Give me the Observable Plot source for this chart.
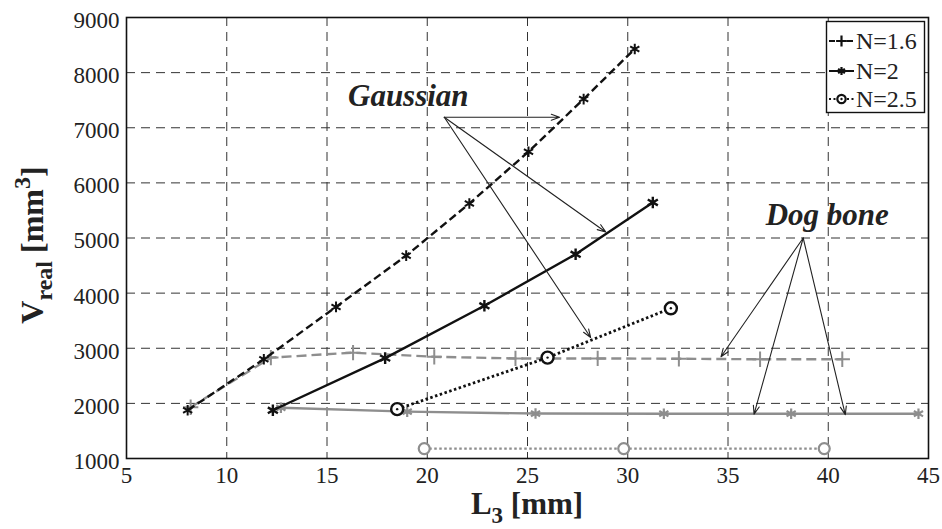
<!DOCTYPE html>
<html>
<head>
<meta charset="utf-8">
<script src="https://cdn.jsdelivr.net/npm/d3@7"></script>
<script src="https://cdn.jsdelivr.net/npm/@observablehq/plot@0.6"></script>
<style>
  html, body { margin: 0; padding: 0; background: #fff; }
  #chart svg { display: block; }
</style>
</head>
<body>
<div id="chart"></div>
<script>
// ---- Data ----
const xTicks = [5, 10, 15, 20, 25, 30, 35, 40, 45];
const yTicks = [1000, 2000, 3000, 4000, 5000, 6000, 7000, 8000, 9000];

const gauss16X = [8.05, 11.85, 15.45, 18.95, 22.1, 25.05, 27.8, 30.35];
const gauss16Y = [1875, 2800, 3750, 4680, 5625, 6565, 7520, 8430];
const gauss2X = [12.3, 17.9, 22.85, 27.4, 31.25];
const gauss2Y = [1875, 2820, 3770, 4705, 5645];
const gauss25X = [18.5, 26.0, 32.15];
const gauss25Y = [1895, 2830, 3725];

const dog16X = [8.2, 12.2, 16.3, 20.35, 24.4, 28.5, 32.55, 36.6, 40.7];
const dog16Y = [1930, 2830, 2920, 2845, 2815, 2815, 2810, 2800, 2800];
const dog2X = [12.7, 19.0, 25.4, 31.8, 38.15, 44.5];
const dog2Y = [1920, 1850, 1815, 1813, 1813, 1813];
const dog25X = [19.85, 29.8, 39.8];
const dog25Y = [1180, 1180, 1180];

const legendLabels = ["N=1.6", "N=2", "N=2.5"];

const gaussLabel = "Gaussian";
const gaussOrigin = [20.85, 7190];
const gaussTargetsX = [26.6, 28.9, 28.15];
const gaussTargetsY = [7190, 5110, 3195];

const dogLabel = "Dog bone";
const dogOrigin = [38.75, 5000];
const dogTargetsX = [34.65, 36.3, 40.85];
const dogTargetsY = [2845, 1805, 1795];

// ---- Build tables ----
const zip = (xs, ys) => xs.map((x, i) => ({x, y: ys[i]}));
const g16 = zip(gauss16X, gauss16Y), g2 = zip(gauss2X, gauss2Y), g25 = zip(gauss25X, gauss25Y);
const d16 = zip(dog16X, dog16Y), d2 = zip(dog2X, dog2Y), d25 = zip(dog25X, dog25Y);
const gArrows = gaussTargetsX.map((x, i) => ({x1: gaussOrigin[0], y1: gaussOrigin[1], x2: x, y2: gaussTargetsY[i]}));
const dArrows = dogTargetsX.map((x, i) => ({x1: dogOrigin[0], y1: dogOrigin[1], x2: x, y2: dogTargetsY[i]}));

const BLACK = "#111";
const GRAY = "#8e8e8e";
const LW = 2.4;
const serif = "'Liberation Serif', 'Times New Roman', serif";
const fmt = d => String(d);

const plot = Plot.plot({
  width: 942,
  height: 529,
  marginLeft: 126,
  marginRight: 14,
  marginTop: 17,
  marginBottom: 71,
  style: {fontFamily: serif, fontSize: "23px", color: "#222", background: "#fff"},
  x: {domain: [5, 45], ticks: xTicks, tickFormat: fmt, label: null},
  y: {domain: [1000, 9000], ticks: yTicks, tickFormat: fmt, label: null},
  marks: [
    Plot.gridX(xTicks, {stroke: "#333", strokeOpacity: 1, strokeWidth: 1, strokeDasharray: "9,6"}),
    Plot.gridY(yTicks, {stroke: "#333", strokeOpacity: 1, strokeWidth: 1, strokeDasharray: "9,6"}),
    Plot.axisX(xTicks, {tickSize: 0, tickPadding: 8, fontSize: 23, fontFamily: serif, fill: "#222", tickFormat: fmt}),
    Plot.axisY(yTicks, {tickSize: 0, tickPadding: 7, fontSize: 23, fontFamily: serif, fill: "#222", dy: 3, tickFormat: fmt}),
    // Dog bone (gray)
    Plot.line(d16, {x: "x", y: "y", stroke: GRAY, strokeWidth: LW, strokeDasharray: "10,5", strokeLinecap: "butt"}),
    Plot.dot(d16, {x: "x", y: "y", symbol: "plus", r: 5, stroke: GRAY, strokeWidth: 2}),
    Plot.line(d2, {x: "x", y: "y", stroke: GRAY, strokeWidth: LW}),
    Plot.dot(d2, {x: "x", y: "y", symbol: "asterisk", r: 5, stroke: GRAY, strokeWidth: 2.2}),
    Plot.line(d25, {x: "x", y: "y", stroke: GRAY, strokeWidth: LW, strokeDasharray: "2.5,2.5", strokeLinecap: "butt"}),
    Plot.dot(d25, {x: "x", y: "y", symbol: "circle", r: 5.5, stroke: GRAY, fill: "white", strokeWidth: 2.2}),
    // Gaussian (black)
    Plot.line(g16, {x: "x", y: "y", stroke: BLACK, strokeWidth: LW, strokeDasharray: "8,4", strokeLinecap: "butt"}),
    Plot.dot(g16, {x: "x", y: "y", symbol: "asterisk", r: 5, stroke: BLACK, strokeWidth: 2}),
    Plot.line(g2, {x: "x", y: "y", stroke: BLACK, strokeWidth: LW}),
    Plot.dot(g2, {x: "x", y: "y", symbol: "asterisk", r: 5.5, stroke: BLACK, strokeWidth: 2.4}),
    Plot.line(g25, {x: "x", y: "y", stroke: BLACK, strokeWidth: LW + 0.4, strokeDasharray: "2.5,2.5", strokeLinecap: "butt"}),
    Plot.dot(g25, {x: "x", y: "y", symbol: "circle", r: 6, stroke: BLACK, fill: "white", strokeWidth: 2.4}),
    Plot.dot(g25, {x: "x", y: "y", r: 1.2, fill: BLACK}),
    // Annotation arrows
    Plot.arrow(gArrows, {x1: "x1", y1: "y1", x2: "x2", y2: "y2", stroke: "#222", strokeWidth: 1.1, headLength: 12, headAngle: 40, insetStart: 0, insetEnd: 0}),
    Plot.arrow(dArrows, {x1: "x1", y1: "y1", x2: "x2", y2: "y2", stroke: "#222", strokeWidth: 1.1, headLength: 12, headAngle: 40, insetStart: 0, insetEnd: 0}),
    Plot.text([gaussLabel], {x: gaussOrigin[0], y: gaussOrigin[1], text: d => d, dy: -21, dx: -36, fontFamily: serif, fontWeight: "bold", fontStyle: "italic", fontSize: 31, fill: "#222", textAnchor: "middle"}),
    Plot.text([dogLabel], {x: dogOrigin[0], y: dogOrigin[1], text: d => d, dy: -23, dx: 24, fontFamily: serif, fontWeight: "bold", fontStyle: "italic", fontSize: 31, fill: "#222", textAnchor: "middle"}),
    Plot.frame({stroke: "#111", strokeWidth: 1.6})
  ]
});

document.getElementById("chart").appendChild(plot);

// ---- Axis labels with sub/superscripts, and legend ----
const svg = d3.select(plot);

// force serif tick labels
svg.selectAll("g[aria-label$='tick label'], g[aria-label$='tick label'] text")
  .style("font-family", serif).attr("font-family", serif);

// x label: L_3 [mm]
const xl = svg.append("text")
  .attr("x", 527).attr("y", 514)
  .attr("text-anchor", "middle")
  .attr("font-family", serif).attr("font-weight", "bold").attr("font-size", 31).attr("fill", "#222");
xl.append("tspan").text("L");
xl.append("tspan").attr("font-size", 23).attr("dy", 9).text("3");
xl.append("tspan").attr("dy", -9).text(" [mm]");

// y label: V_real [mm^3]
const yl = svg.append("text")
  .attr("transform", "translate(43,245) rotate(-90)")
  .attr("text-anchor", "middle")
  .attr("font-family", serif).attr("font-weight", "bold").attr("font-size", 32).attr("fill", "#222");
yl.append("tspan").text("V");
yl.append("tspan").attr("font-size", 24).attr("dy", 9).text("real");
yl.append("tspan").attr("dy", -9).text(" [mm");
yl.append("tspan").attr("font-size", 24).attr("dy", -13).text("3");
yl.append("tspan").attr("dy", 13).text("]");

// legend
const lg = svg.append("g").attr("text-anchor", "start");
lg.append("rect").attr("x", 826.5).attr("y", 21.5).attr("width", 98).attr("height", 91)
  .attr("fill", "white").attr("stroke", "#111").attr("stroke-width", 1.4);
const rowsY = [41, 71, 99];
const dash = ["6,3", null, "2,2.5"];
const sym = [d3.symbolPlus, d3.symbolAsterisk, d3.symbolCircle];
const symSize = [40, 45, 55];
legendLabels.forEach((lab, i) => {
  const y = rowsY[i];
  const ln = lg.append("line").attr("x1", 829).attr("x2", 854).attr("y1", y).attr("y2", y)
    .attr("stroke", BLACK).attr("stroke-width", 2);
  if (dash[i]) ln.attr("stroke-dasharray", dash[i]);
  lg.append("path").attr("d", d3.symbol(sym[i], symSize[i])())
    .attr("transform", `translate(841.5,${y})`)
    .attr("fill", i === 2 ? "white" : "none").attr("stroke", BLACK).attr("stroke-width", 2.2);
  if (i === 2) lg.append("circle").attr("cx", 841.5).attr("cy", y).attr("r", 1.2).attr("fill", BLACK);
  lg.append("text").attr("x", 856).attr("y", y).attr("dy", "0.35em").attr("text-anchor", "start")
    .attr("font-family", serif).attr("font-size", 24).attr("fill", "#222").text(lab);
});
</script>
</body>
</html>
